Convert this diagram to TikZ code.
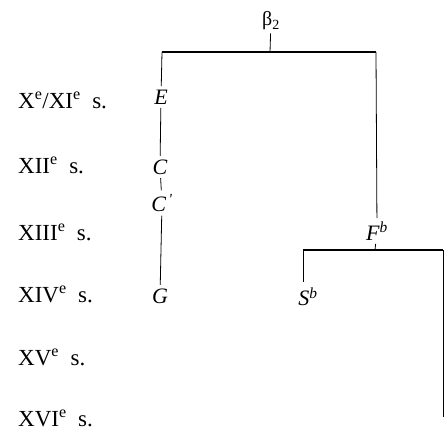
\documentclass[tikz,border=0pt]{standalone}
\usepackage{fontspec}
\setmainfont{Liberation Serif}
\usetikzlibrary{positioning,calc}

\tikzset{
  siecle/.style={anchor=west,inner sep=0pt,font=\fontsize{23}{27}\selectfont},
  sigle/.style={inner sep=3.5pt,font=\fontsize{22}{26}\selectfont\itshape},
  stem/.style={line width=0.8pt},
  bar/.style={line width=1.5pt},
}

\begin{document}
\begin{tikzpicture}[x=1pt,y=-1pt]
  \useasboundingbox (0,0) rectangle (445,433);
  % colonne des siecles
  \node[siecle] (s10) at (18,100) {X\textsuperscript{e}/XI\textsuperscript{e}\ \ s.};
  \node[siecle] (s12) at (18,165) {XII\textsuperscript{e}\ \ s.};
  \node[siecle] (s13) at (18,232) {XIII\textsuperscript{e}\ \ s.};
  \node[siecle] (s14) at (18,294) {XIV\textsuperscript{e}\ \ s.};
  \node[siecle] (s15) at (18,357) {XV\textsuperscript{e}\ \ s.};
  \node[siecle] (s16) at (18,418) {XVI\textsuperscript{e}\ \ s.};
  % temoins
  \node[inner sep=3pt,font=\fontsize{20}{24}\selectfont] (beta) at (271,21) {β\textsubscript{2}};
  \node[sigle] (E) at (161,97) {E};
  \node[sigle] (C) at (160,167) {C};
  \node[sigle] (Cp) at (162,203) {C\textsuperscript{\,\textquotesingle}};
  \node[sigle] (G) at (160,296) {G};
  \node[sigle] (Fb) at (377,231) {F\textsuperscript{b}};
  \node[sigle] (Sb) at (308,297) {S\textsuperscript{b}};
  \coordinate (top) at (270,52);
  \coordinate (mid) at (375,250);
  \coordinate (edge) at (443,417);
  % branches
  \draw[stem] (beta) -- (top);
  \draw[bar] (162,52) -- (376,52);
  \draw[stem] (162,52) -- (E);
  \draw[stem] (376,52) -- (Fb);
  \draw[stem] (E) -- (C);
  \draw[stem] (C) -- (Cp);
  \draw[stem] (Cp) -- (G);
  \draw[stem] (Fb) -- (mid);
  \draw[bar] (303,250) -- (mid -| edge);
  \draw[stem] (303,250) -- (303,282);
  \draw[stem] (mid -| edge) -- (edge);
\end{tikzpicture}
\end{document}
